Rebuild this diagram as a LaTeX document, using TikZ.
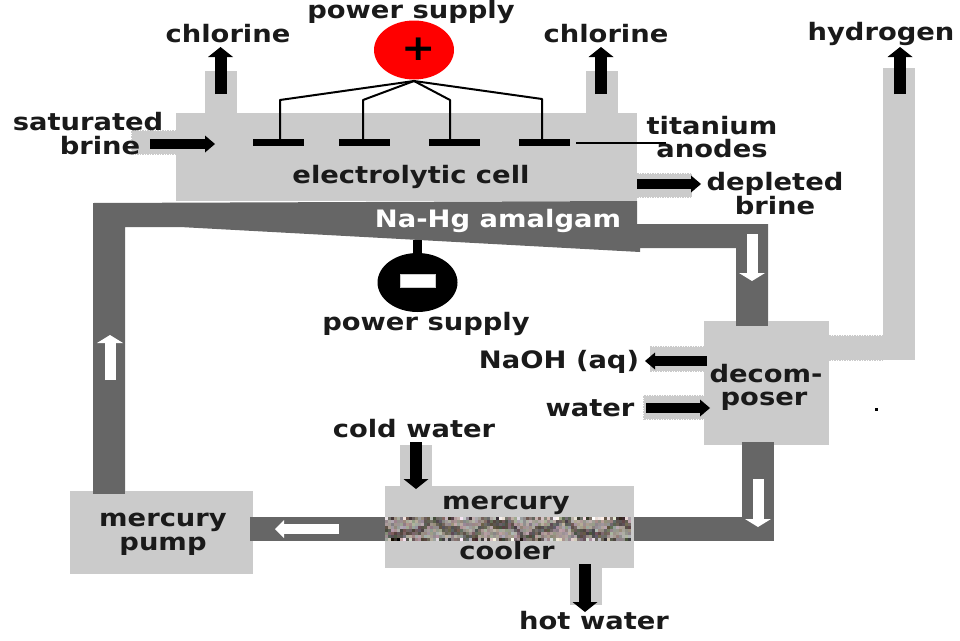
\documentclass[tikz,border=0pt]{standalone}
\usepackage{fontspec}
\setmainfont[FakeStretch=1.14]{DejaVu Sans}
\usetikzlibrary{arrows.meta}
\definecolor{lightp}{HTML}{CBCBCB}
\definecolor{darkp}{HTML}{666666}
\definecolor{ink}{HTML}{1A1A1A}
\tikzset{
  lbl/.style={font=\fontsize{24}{26}\selectfont\bfseries,text=ink,inner sep=0pt,anchor=base},
  boxl/.style={fill=lightp,draw=none},
  boxd/.style={fill=darkp,draw=none},
  edge/.style={draw=lightp,densely dotted,line width=1.5pt},
  blkv/.style={draw=black,line width=12pt,-{Triangle[length=10pt,width=25pt,line width=0pt]}},
  blkh/.style={draw=black,line width=10pt,-{Triangle[length=10pt,width=17pt,line width=0pt]}},
  whtv/.style={draw=white,line width=11pt,-{Triangle[length=8pt,width=26pt,line width=0pt]}},
  whth/.style={draw=white,line width=10pt,-{Triangle[length=9pt,width=18pt,line width=0pt]}},
  wire/.style={draw=black,line width=2pt,line join=round},
  anode/.style={fill=black,draw=none}
}
\begin{document}
\begin{tikzpicture}[x=1pt,y=-1pt]
\useasboundingbox (0,0) rectangle (960,640);
% light pipes
\fill[boxl] (205,71) rectangle (237,115);
\fill[boxl] (586,71) rectangle (618,115);
\fill[boxl] (400,445) rectangle (432,488);
\fill[boxl] (570,566) rectangle (602,605);
\fill[boxl] (883,68) rectangle (915,360);
\fill[boxl] (827,336) rectangle (915,360);
\fill[boxl] (132,131) rectangle (178,154);
\fill[boxl] (635,174) rectangle (692,197);
\fill[boxl] (650,347) rectangle (706,371);
\fill[boxl] (644,396) rectangle (706,419);
% dotted pipe edges
\draw[edge] (132,131) -- (176,131) (132,154) -- (176,154) (132,131) -- (132,154);
\draw[edge] (637,174) -- (692,174) (637,197) -- (692,197);
\draw[edge] (650,347) -- (704,347) (650,371) -- (704,371);
\draw[edge] (644,396) -- (704,396) (644,419) -- (704,419) (644,396) -- (644,419);
\draw[edge] (829,336) -- (883,336) (829,360) -- (883,360);
% dark pipes
\fill[boxd] (93,203) -- (637,201) -- (637,224) -- (768,224) -- (768,326) -- (736,326) -- (736,248) -- (640,248) -- (640,252) -- (180,227) -- (125,227) -- (125,494) -- (93,494) -- cycle;
\fill[boxd] (742,442) rectangle (774,541);
\fill[boxd] (250,517) rectangle (774,541);
% boxes
\fill[boxl] (176,113) rectangle (637,201);
\fill[boxl] (704,321) rectangle (829,445);
\fill[boxd] (736,321) rectangle (768,326);
\fill[boxd] (742,442) rectangle (774,445);
\fill[boxl] (385,486) rectangle (634,568);
\fill[boxl] (70,491) rectangle (253,574);
\fill[boxd] (93,491) rectangle (125,494);
\fill[boxd] (250,517) rectangle (253,541);
% noisy cooler band
\pgfmathsetseed{7}
\foreach \i in {0,...,81}{
  \foreach \j in {0,...,7}{
    \pgfmathsetmacro{\wv}{abs(\j-3.5-2.2*sin(\i*17)-1.0*sin(\i*41))}
    \pgfmathsetmacro{\base}{(\wv<1.3?0.36:0.60)+0.5*(rnd-0.5)*((\j==0||\j==7)?1.7:0.35)}
    \pgfmathsetmacro{\rd}{min(1,max(0,\base+0.10*(rnd-0.5)+0.03))}
    \pgfmathsetmacro{\gn}{min(1,max(0,\base+0.10*(rnd-0.5)))}
    \pgfmathsetmacro{\bl}{min(1,max(0,\base+0.10*(rnd-0.5)-0.02))}
    \definecolor{nz}{rgb}{\rd,\gn,\bl}
    \fill[nz] (385+\i*3,517+\j*3) rectangle +(3.05,3.05);
  }
}
% electrodes
\fill[red] (414,50) ellipse [x radius=40,y radius=29.5];
\coordinate (top) at (414,81);
\node[font=\fontsize{36}{36}\selectfont\bfseries,text=black,inner sep=0pt] (plus) at (419,49) {+};
\fill[black] (413,240) rectangle (422,256);
\fill[black] (417.5,282.5) ellipse [x radius=40,y radius=29.5];
\fill[white,draw=lightp,line width=1pt] (400,274) rectangle (435,287);
% anodes
\fill[anode] (253,139) rectangle (304,146);
\fill[anode] (339,139) rectangle (390,146);
\fill[anode] (429,139) rectangle (480,146);
\fill[anode] (519,139) rectangle (570,146);
\coordinate (w1) at (280,141); \coordinate (w2) at (363,141);
\coordinate (w3) at (450,141); \coordinate (w4) at (542,141);
\draw[wire] (top) -- (280,100) -- (w1);
\draw[wire] (top) -- (363,100) -- (w2);
\draw[wire] (top) -- (450,100) -- (w3);
\draw[wire] (top) -- (542,99) -- (w4);
\coordinate (tA) at (576,143); \coordinate (tB) at (666,143);
\draw[black,line width=1.5pt] (tA) -- (tB);
% black arrows
\draw[blkv] (220.5,94) -- (220.5,47);
\draw[blkv] (601,94) -- (601,47);
\draw[blkv] (900,94) -- (900,47);
\draw[blkh] (150,144) -- (215,144);
\draw[blkh] (637,184) -- (701,184);
\draw[blkh] (707,361) -- (645,361);
\draw[blkh] (646,408) -- (710,408);
\draw[blkv] (416,442) -- (416,489);
\draw[blkv] (585,564) -- (585,612);
% white arrows
\draw[whtv] (752,234) -- (752,281);
\draw[whtv] (758,479) -- (758,527);
\draw[whtv] (110,380) -- (110,335);
\draw[whth] (339,529) -- (275,529);
\fill[black] (875,408) rectangle (878,411);
% labels
\node[lbl] (ps1) at (411,18) {power supply};
\node[lbl] (cl1) at (228,42) {chlorine};
\node[lbl] (cl2) at (606,42) {chlorine};
\node[lbl] (h2) at (881,40) {hydrogen};
\node[lbl] (sb1) at (88,130) {saturated};
\node[lbl] (sb2) at (100,154) {brine};
\node[lbl] (ti1) at (712,134) {titanium};
\node[lbl] (ti2) at (712,157) {anodes};
\node[lbl] (ec) at (411,183) {electrolytic cell};
\node[lbl] (db1) at (775,190) {depleted};
\node[lbl] (db2) at (775,214) {brine};
\node[lbl,text=white] (am) at (498,227) {Na-Hg amalgam};
\node[lbl] (ps2) at (426,330) {power supply};
\node[lbl] (na) at (559,368) {NaOH (aq)};
\node[lbl] (wa) at (590,416) {water};
\node[lbl] (de1) at (766,382) {decom-};
\node[lbl] (de2) at (764,405) {poser};
\node[lbl] (cw) at (414,437) {cold water};
\node[lbl] (mc1) at (506,509) {mercury};
\node[lbl] (mc2) at (507,559) {cooler};
\node[lbl] (mp1) at (163,526) {mercury};
\node[lbl] (mp2) at (163,550) {pump};
\node[lbl] (hw) at (594,629) {hot water};
\end{tikzpicture}
\end{document}
